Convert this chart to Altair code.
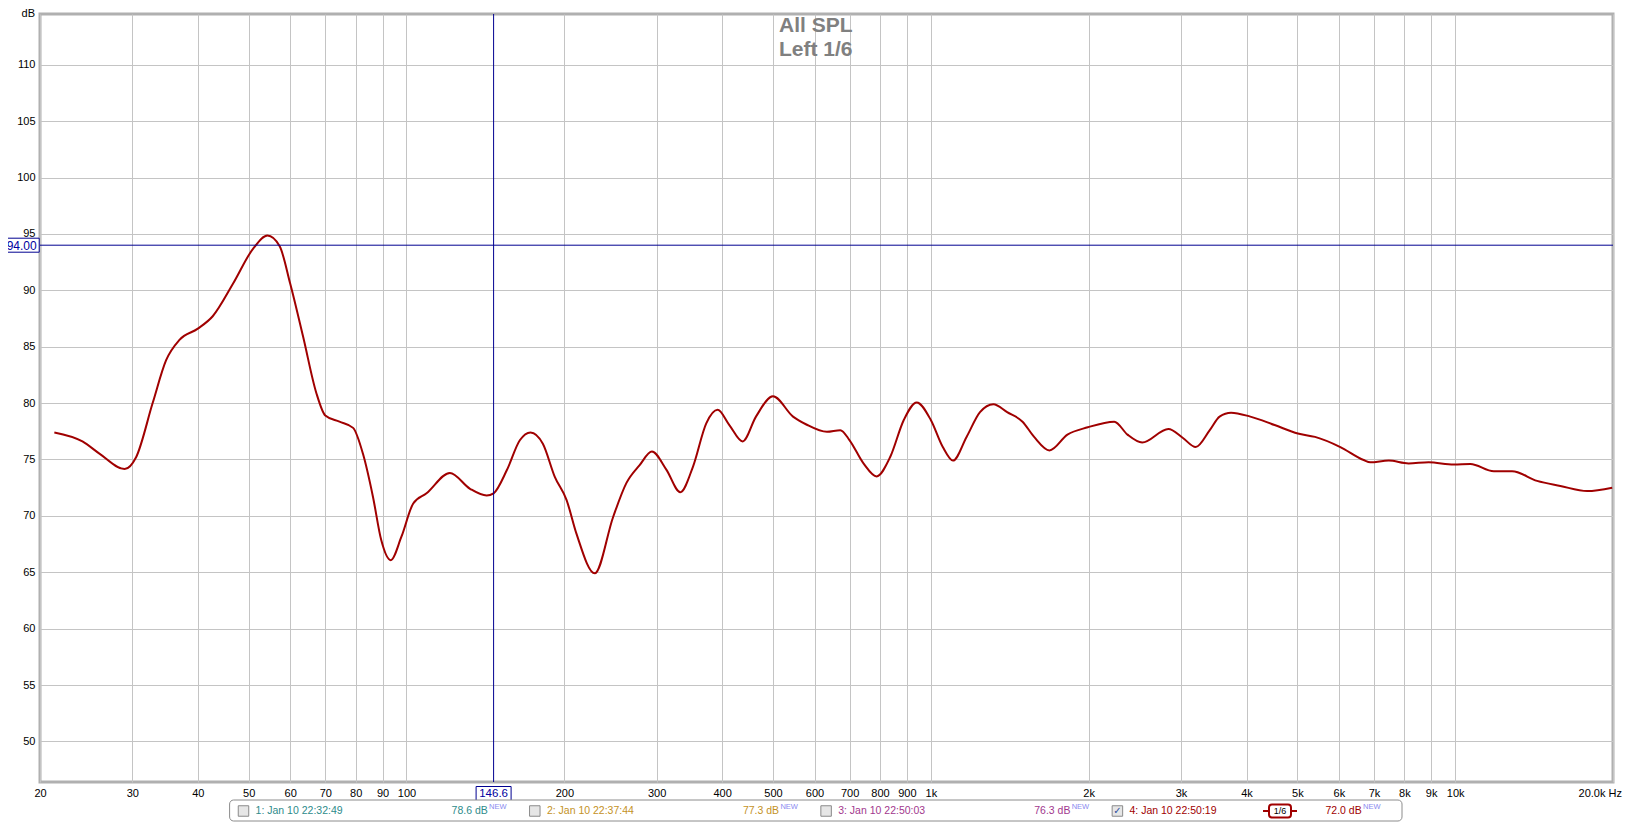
import altair as alt
import pandas as pd

# ---------------- data ----------------
freq_hz = [21.3, 24.1, 26.0, 29.0, 30.5, 32.8, 34.8, 36.9, 40.0, 42.7, 46.7, 51.0, 54.3, 57.3,
           60.0, 63.5, 67.3, 70.0, 74.5, 79.1, 82.6, 86.3, 89.5, 93.3, 97.8, 103, 109.2, 121,
           132.2, 142.2, 146.6, 155.4, 164.5, 172.4, 182, 191.8, 202, 211, 228.6, 247.8, 262.6,
           278.4, 293.8, 313, 332.8, 351.8, 373, 392, 412.8, 437.6, 464, 500, 546, 579, 633.6,
           672, 700, 744, 788, 837, 888, 940, 1000, 1054, 1102, 1170, 1241, 1316, 1398, 1496,
           1574, 1684, 1822, 1992, 2238, 2372, 2530, 2838, 3026, 3200, 3404, 3554, 3738, 4068,
           4526, 5012, 5404, 6040, 6690, 6890, 7470, 8150, 8900, 9940, 10690, 11850, 12840,
           14330, 15870, 17860, 19930]
spl_db = [77.4, 76.6, 75.5, 74.15, 75.2, 80.0, 83.8, 85.6, 86.6, 87.7, 90.6, 93.7, 94.85, 93.9,
          90.6, 85.9, 80.9, 78.9, 78.35, 77.8, 75.5, 71.7, 67.85, 66.07, 68.15, 71.1, 72.0, 73.8,
          72.4, 71.8, 72.0, 74.06, 76.7, 77.4, 76.4, 73.46, 71.4, 68.4, 64.9, 69.9, 72.9,
          74.5, 75.7, 74.1, 72.1, 74.35, 78.2, 79.4, 78.05, 76.6, 78.8, 80.6, 78.8, 78.1, 77.45,
          77.6, 76.7, 74.65, 73.5, 75.24, 78.5, 80.06, 78.5, 76.1, 74.9, 77.0, 79.2, 79.9, 79.2, 78.35,
          77.0, 75.8, 77.2, 77.85, 78.35, 77.2, 76.5, 77.7, 76.9, 76.1, 77.6, 78.8, 79.15, 78.8,
          78.05, 77.3, 77.0, 76.1, 74.95, 74.75, 74.9, 74.65, 74.75, 74.55, 74.6, 73.95, 73.95,
          73.1, 72.65, 72.2, 72.5]

x_grid_hz = [20, 30, 40, 50, 60, 70, 80, 90, 100, 200, 300, 400, 500, 600, 700, 800, 900,
             1000, 2000, 3000, 4000, 5000, 6000, 7000, 8000, 9000, 10000, 20000]
y_grid_db = [50, 55, 60, 65, 70, 75, 80, 85, 90, 95, 100, 105, 110]

title_lines = ["All SPL", "Left 1/6"]
meas_names = ["1: Jan 10 22:32:49", "2: Jan 10 22:37:44", "3: Jan 10 22:50:03", "4: Jan 10 22:50:19"]
meas_levels = ["78.6 dB", "77.3 dB", "76.3 dB", "72.0 dB"]
meas_colors = ["#2e8b8b", "#c4921f", "#a2388e", "#a00000"]
meas_checked = [False, False, False, True]
smoothing_label = "1/6"

cursor_hz = [146.6]
cursor_db = [94.0]
cursor_hz_text = ["146.6"]
cursor_db_text = ["94.00"]

# ---------------- layout ----------------
W, H = 1573, 768
X_DOMAIN = [20, 20000]
Y_DOMAIN = [46.4, 114.5]
FONT = "Liberation Sans"
CURSOR = "#000090"
CURVE = "#a00000"
ONE = pd.DataFrame({"a": [0]})

xs = alt.Scale(type="log", domain=X_DOMAIN, nice=False)
ys = alt.Scale(domain=Y_DOMAIN, nice=False, zero=False)

x_axis = alt.Axis(values=x_grid_hz, grid=True, gridColor="#c4c4c4", gridWidth=1, ticks=False,
                  domain=False, title=None, labelFont=FONT, labelFontSize=11,
                  labelColor="#000000", labelPadding=5, labelFlush=False, labelOverlap=False,
                  labelBound=False,
                  labelExpr="datum.value >= 20000 ? '' : (datum.value >= 1000 ? format(datum.value/1000, '.0f') + 'k' : format(datum.value, '.0f'))")
y_axis = alt.Axis(values=y_grid_db, grid=True, gridColor="#c4c4c4", gridWidth=1, ticks=False,
                  domain=False, title=None, labelFont=FONT, labelFontSize=11,
                  labelColor="#000000", labelPadding=5, labelOverlap=False, labelFlush=False)


def X(field):
    return alt.X(field, type="quantitative", scale=xs, axis=x_axis)


def Y(field):
    return alt.Y(field, type="quantitative", scale=ys, axis=y_axis)


curve_df = pd.DataFrame({"f": freq_hz, "db": spl_db})
curve = alt.Chart(curve_df).mark_line(color=CURVE, strokeWidth=2, interpolate="monotone").encode(
    x=X("f"), y=Y("db"))

vdf = pd.DataFrame({"f": cursor_hz, "t": cursor_hz_text})
hdf = pd.DataFrame({"db": cursor_db, "t": cursor_db_text})
vcur = alt.Chart(vdf).mark_rule(color=CURSOR, strokeWidth=1).encode(x=X("f"))
hcur = alt.Chart(hdf).mark_rule(color=CURSOR, strokeWidth=1).encode(y=Y("db"))

BOX_PATH = "M-1,-0.4L1,-0.4L1,0.4L-1,0.4Z"
vbox = alt.Chart(vdf).mark_point(
    shape=BOX_PATH, size=35 * 35, fill="white", fillOpacity=1, stroke=CURSOR, strokeWidth=1, opacity=1
).encode(x=X("f"), y=alt.value(779.5))
vtext = alt.Chart(vdf).mark_text(
    font=FONT, fontSize=11.5, color="#0000a0", align="center", baseline="middle", dy=0.5
).encode(x=X("f"), y=alt.value(779.5), text="t:N")

hbox = alt.Chart(hdf).mark_point(
    shape=BOX_PATH, size=35 * 35, fill="white", fillOpacity=1, stroke=CURSOR, strokeWidth=1, opacity=1
).encode(y=Y("db"), x=alt.value(-18.3))
htext = alt.Chart(hdf).mark_text(
    font=FONT, fontSize=12, color="#0000a0", align="center", baseline="middle", dy=0.5
).encode(y=Y("db"), x=alt.value(-18.3), text="t:N")

# title inside plot
title = alt.Chart(pd.DataFrame({"t": ["\n".join(title_lines)]})).mark_text(
    font=FONT, fontSize=21, fontWeight="bold", color="#808080", align="left",
    baseline="alphabetic", lineBreak="\n", lineHeight=23.5
).encode(x=alt.value(739), y=alt.value(18), text="t:N")

db_label = alt.Chart(pd.DataFrame({"t": ["dB"]})).mark_text(
    font=FONT, fontSize=11, color="#000000", align="right", baseline="alphabetic"
).encode(x=alt.value(-5), y=alt.value(3), text="t:N")

hz_label = alt.Chart(pd.DataFrame({"f": [X_DOMAIN[1]], "t": ["20.0k Hz"]})).mark_text(
    font=FONT, fontSize=11, color="#000000", align="right", baseline="middle", dx=9
).encode(x=X("f"), y=alt.value(779.5), text="t:N")

# ---------------- measurement legend at bottom ----------------
STEP = 291.3
LY = 797
legend_layers = [
    alt.Chart(ONE).mark_rect(fill="white", stroke="#8c8c8c", strokeWidth=1, cornerRadius=4).encode(
        x=alt.value(189.6), x2=alt.value(1362), y=alt.value(786), y2=alt.value(807))
]
for i, (name, level, col, chk) in enumerate(zip(meas_names, meas_levels, meas_colors, meas_checked)):
    bx = 203.5 + STEP * i
    nx = 215.6 + STEP * i
    lx = 411.6 + STEP * i
    legend_layers.append(alt.Chart(ONE).mark_point(
        shape="square", size=110, fill="#e6e6e6", fillOpacity=1, stroke="#8a8a8a", strokeWidth=1, opacity=1
    ).encode(x=alt.value(bx), y=alt.value(LY)))
    if chk:
        legend_layers.append(alt.Chart(pd.DataFrame({"t": ["\u2713"]})).mark_text(
            font="DejaVu Sans", fontSize=10, color="#2b4fa0", fontWeight="bold", align="center",
            baseline="middle").encode(x=alt.value(bx), y=alt.value(LY), text="t:N"))
    legend_layers.append(alt.Chart(pd.DataFrame({"t": [name]})).mark_text(
        font=FONT, fontSize=10.5, align="left", baseline="middle", color=col
    ).encode(x=alt.value(nx), y=alt.value(LY), text="t:N"))
    legend_layers.append(alt.Chart(pd.DataFrame({"t": [level]})).mark_text(
        font=FONT, fontSize=10.5, align="left", baseline="middle", color=col
    ).encode(x=alt.value(lx), y=alt.value(LY), text="t:N"))
    legend_layers.append(alt.Chart(pd.DataFrame({"t": ["NEW"]})).mark_text(
        font=FONT, fontSize=7.5, align="left", baseline="middle", color="#8a8af0"
    ).encode(x=alt.value(lx + 37.5), y=alt.value(LY - 4), text="t:N"))

legend_layers += [
    alt.Chart(ONE).mark_rule(color=CURVE, strokeWidth=2).encode(
        x=alt.value(1223), x2=alt.value(1257), y=alt.value(LY)),
    alt.Chart(ONE).mark_rect(fill="white", stroke=CURVE, strokeWidth=2, cornerRadius=3).encode(
        x=alt.value(1229), x2=alt.value(1251), y=alt.value(LY - 6.5), y2=alt.value(LY + 6.5)),
    alt.Chart(pd.DataFrame({"t": [smoothing_label]})).mark_text(
        font=FONT, fontSize=9, color="#000000", align="center", baseline="middle"
    ).encode(x=alt.value(1240), y=alt.value(LY), text="t:N"),
]

chart = alt.layer(
    curve, vcur, hcur, title, db_label, hz_label,
    vbox, vtext, hbox, htext, *legend_layers,
).properties(
    width=W, height=H,
    autosize=alt.AutoSizeParams(type="none"),
    padding={"left": 32, "top": 6, "right": 11, "bottom": 40},
    background="white",
).configure_view(stroke="#b0b0b0", strokeWidth=3)

chart.save("out.html", embed_options={"renderer": "svg", "actions": False})
